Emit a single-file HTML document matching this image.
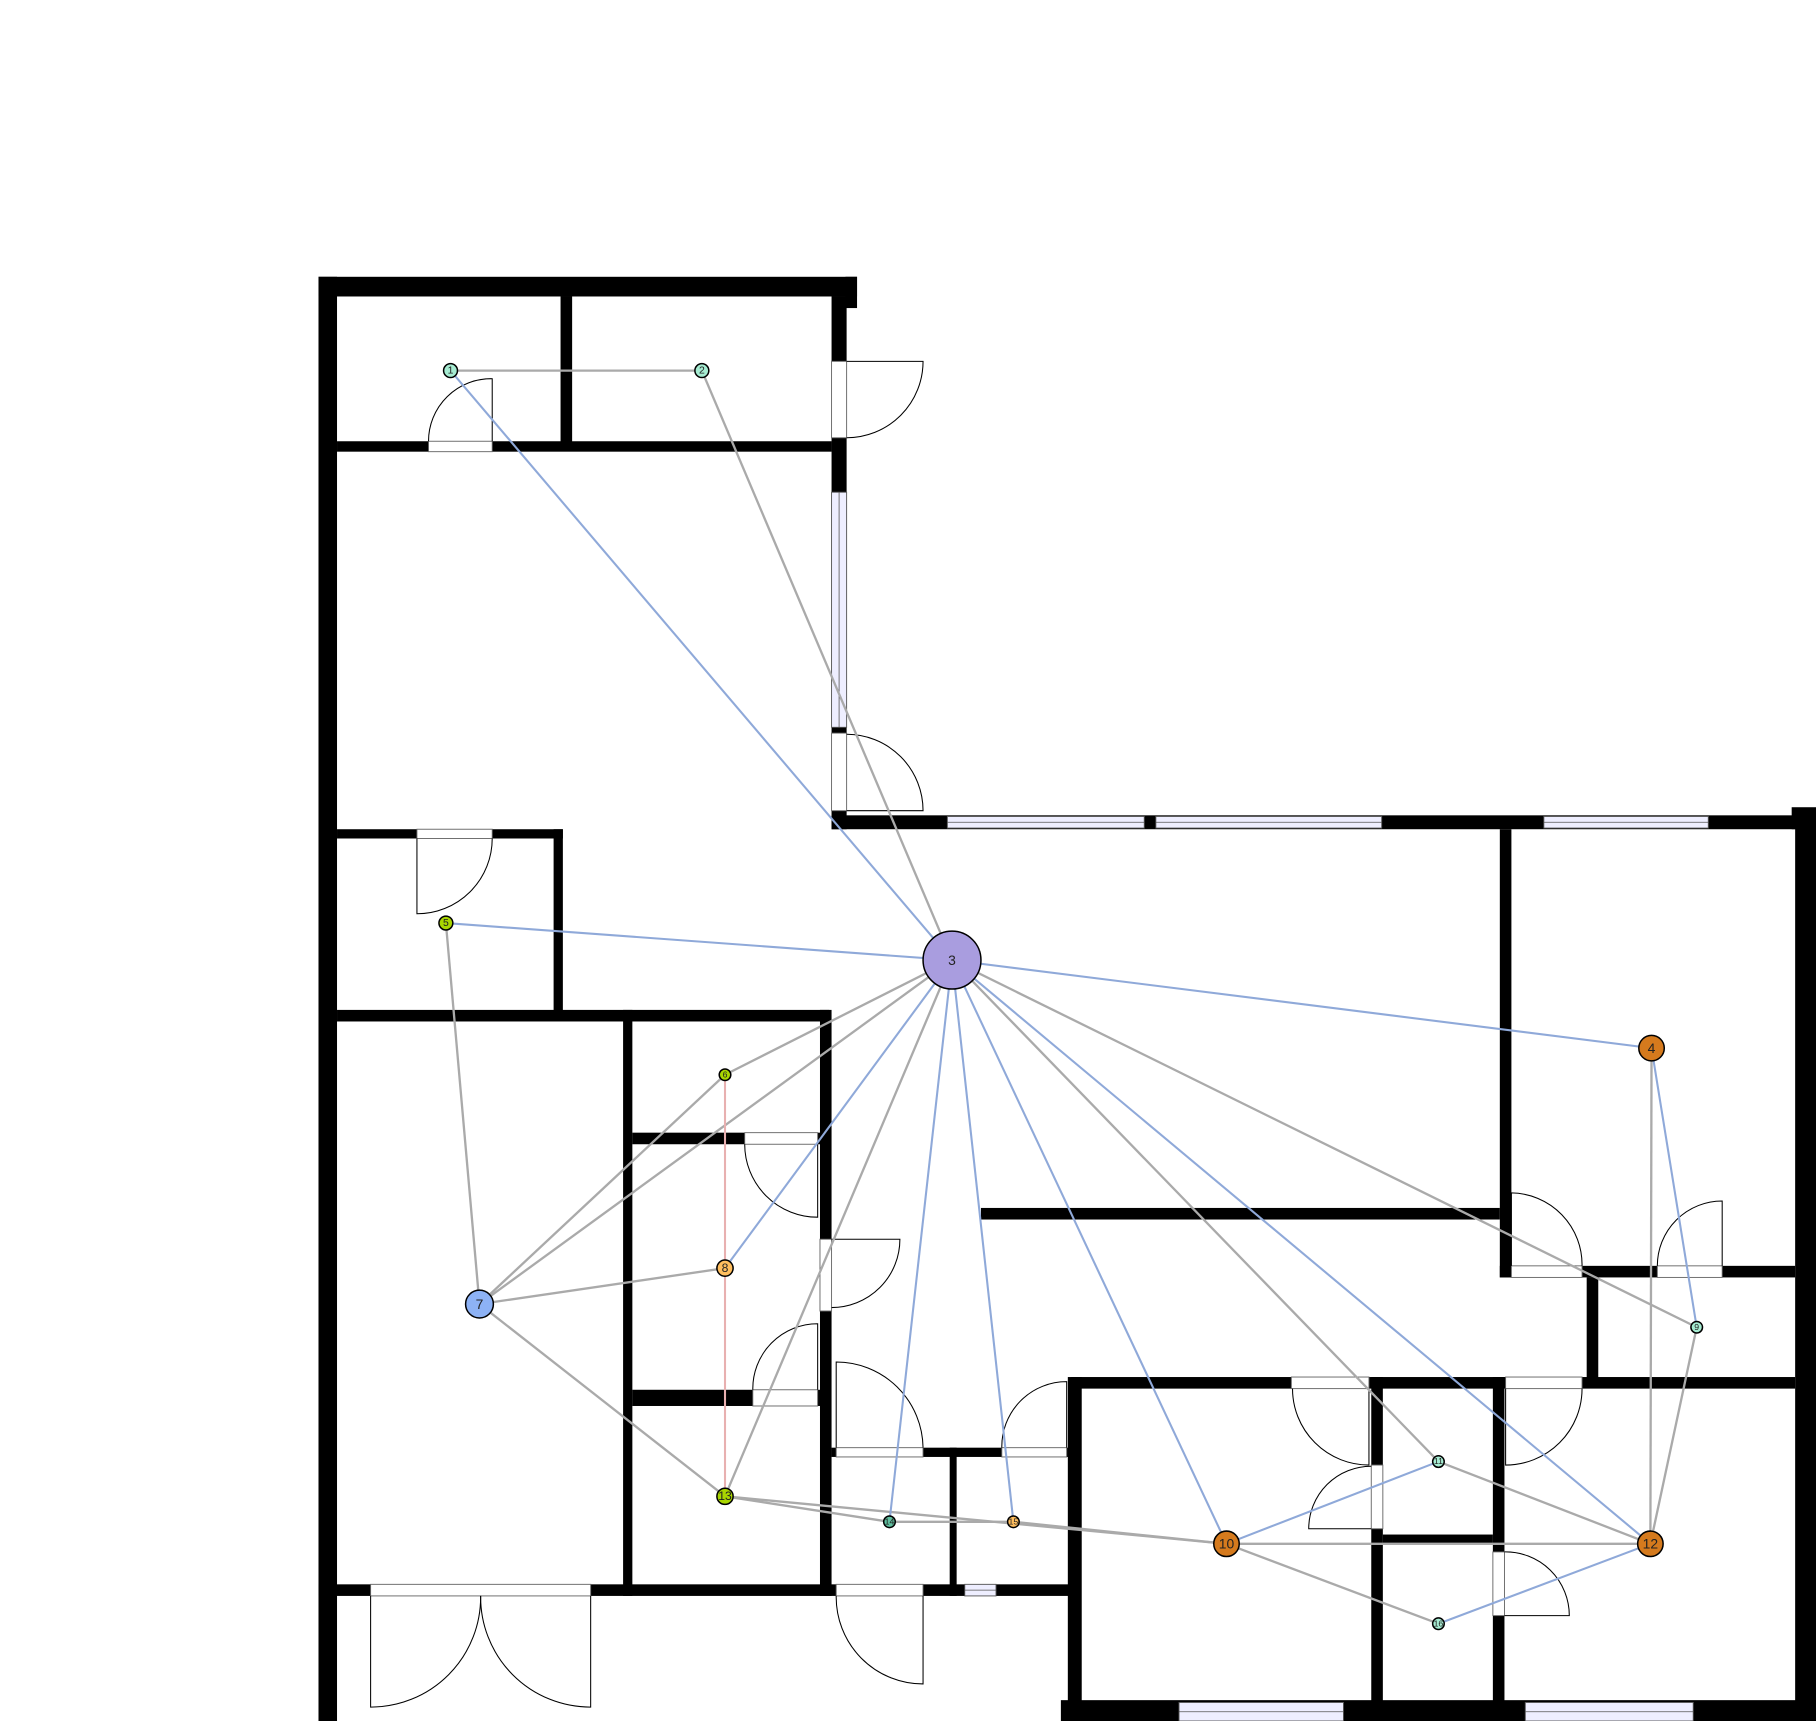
<!DOCTYPE html>
<html><head><meta charset="utf-8"><style>
html,body{margin:0;padding:0;background:#fff;}
svg{display:block;}
text{font-family:"Liberation Sans",sans-serif;}
</style></head><body>
<svg id="plan" width="1816" height="1721" viewBox="0 0 1568 1486" preserveAspectRatio="none" xmlns="http://www.w3.org/2000/svg">
<rect x="0" y="0" width="1568" height="1486" fill="#fff"/>
<g id="walls"></g>
<g id="openings"></g>
<g id="edges"></g>
<g id="nodes"></g>
</svg>
<script>
const NS="http://www.w3.org/2000/svg";
const nodeIds=[1,2,3,4,5,6,7,8,9,10,11,12,13,14,15,16];
const nodeX=[389,606,822,1426,385,626,414,626,1465,1059,1242,1425,626,768,875,1242];
const nodeY=[320,320,829,905,797,928,1126,1095,1146,1333,1262,1333,1292,1314,1314,1402];
const nodeR=[6,6,25,11,6,5,12,7,5,11,5,11,7,5,5,5];
const nodeColor=["#a6ecd2","#a6ecd2","#a99ddf","#d57a1d","#a9d600","#a9d600","#8db2f5","#ffbe5e","#a6ecd2","#d57a1d","#a6ecd2","#d57a1d","#a9d600","#5fbf9f","#ffbe5e","#a6ecd2"];
const edgeFrom=[1,2,3,3,3,3,3,7,7,7,7,13,13,14,15,10,10,11,12,12, 1,5,3,3,3,3,3,3,4,10,16, 6];
const edgeTo  =[2,3,6,7,13,11,9,6,5,8,13,14,10,15,10,12,16,12,4,9, 3,3,4,8,14,15,10,12,9,11,12, 13];
const edgeType=["g","g","g","g","g","g","g","g","g","g","g","g","g","g","g","g","g","g","g","g","b","b","b","b","b","b","b","b","b","b","b","p"];

const walls=[[275,239,465,17],[730,239,10,27],[275,239,16,1247],[484,256,10,126],[291,381,427,9],[718,256,13,460],[718,704,850,12],[1547,697,21,19],[1550,704,18,782],[1295,716,10,387],[1295,1093,255,10],[847,1043,448,10],[1370,1103,10,94],[925,1189,625,10],[922,1189,12,297],[1184,1189,10,297],[1289,1189,10,297],[1194,1325,95,8],[916,1468,652,18],[291,716,195,8],[478,716,8,164],[291,872,425,10],[538,872,8,506],[708,872,10,506],[546,978,162,10],[546,1200,162,14],[275,1368,650,10],[718,1250,207,8],[820,1250,6,128]];
const frames=[[370,381,55,9],[718,312,13,66],[718,633,13,67],[360,716,65,8],[643,978,63,10],[708,1070,10,62],[650,1200,56,14],[722,1250,75,8],[865,1250,56,8],[320,1368,190,10],[722,1368,75,10],[1305,1093,61,10],[1431,1093,56,10],[1115,1189,67,10],[1184,1265,10,55],[1300,1189,66,10],[1289,1340,10,55]];
const windows=[[718,425,13,203],[818,705,170,10],[998,705,195,10],[1333,705,142,10],[833,1368,27,10],[1018,1470,142,16],[1317,1470,145,16]];
// door swings: path d strings (leaf + arc)
const doors=["M425,381 L425,327 A54,54 0 0 0 370,381","M731,312 L797,312 A66,66 0 0 1 731,378","M731,700 L797,700 A66,66 0 0 0 731,634","M360,724 L360,789 A65,65 0 0 0 425,724","M706,988 L706,1051 A63,63 0 0 1 643,988","M718,1070 L777,1070 A59,59 0 0 1 718,1129","M706,1200 L706,1143 A56,56 0 0 0 650,1200","M722,1250 L722,1176 A75,75 0 0 1 797,1250","M921,1250 L921,1193 A56,56 0 0 0 865,1250","M320,1378 L320,1474 A95,95 0 0 0 415,1378","M510,1378 L510,1474 A95,95 0 0 1 415,1378","M797,1378 L797,1454 A75,75 0 0 1 722,1378","M1305,1093 L1305,1030 A62,62 0 0 1 1366,1093","M1487,1093 L1487,1037 A56,56 0 0 0 1431,1093","M1182,1199 L1182,1265 A66,66 0 0 1 1116,1199","M1184,1320 L1130,1320 A54,54 0 0 1 1184,1266","M1300,1199 L1300,1265 A66,66 0 0 0 1366,1199","M1299,1395 L1355,1395 A55,55 0 0 0 1299,1340"];

const gW=document.getElementById('walls');
walls.forEach(w=>{const r=document.createElementNS(NS,'rect');
r.setAttribute('x',w[0]);r.setAttribute('y',w[1]);r.setAttribute('width',w[2]);r.setAttribute('height',w[3]);r.setAttribute('fill','#000');


gW.appendChild(r);});
const gO=document.getElementById('openings');
frames.forEach(w=>{const r=document.createElementNS(NS,'rect');
r.setAttribute('x',w[0]);r.setAttribute('y',w[1]);r.setAttribute('width',w[2]);r.setAttribute('height',w[3]);r.setAttribute('fill','#fff');r.setAttribute('stroke','#666');r.setAttribute('stroke-width','0.8');


gO.appendChild(r);});
windows.forEach(w=>{const r=document.createElementNS(NS,'rect');
r.setAttribute('x',w[0]);r.setAttribute('y',w[1]);r.setAttribute('width',w[2]);r.setAttribute('height',w[3]);r.setAttribute('fill','#eeeeff');r.setAttribute('stroke','#555');r.setAttribute('stroke-width','0.8');


gO.appendChild(r);
const l=document.createElementNS(NS,'line');
if(w[2]>w[3]){l.setAttribute('x1',w[0]);l.setAttribute('x2',w[0]+w[2]);l.setAttribute('y1',w[1]+w[3]/2);l.setAttribute('y2',w[1]+w[3]/2);}
else{l.setAttribute('y1',w[1]);l.setAttribute('y2',w[1]+w[3]);l.setAttribute('x1',w[0]+w[2]/2);l.setAttribute('x2',w[0]+w[2]/2);}
l.setAttribute('stroke','#555');l.setAttribute('stroke-width','0.7');


gO.appendChild(l);});
doors.forEach(d=>{const p=document.createElementNS(NS,'path');
p.setAttribute('d',d);p.setAttribute('fill','none');p.setAttribute('stroke','#000');p.setAttribute('stroke-width','0.9');


gO.appendChild(p);});

const gE=document.getElementById('edges');
const colors={g:'#aaaaaa',b:'#8fa9d9',p:'#e8b0b0'};
edgeFrom.forEach((f,i)=>{const a=nodeIds.indexOf(f),b=nodeIds.indexOf(edgeTo[i]);
const l=document.createElementNS(NS,'line');
l.setAttribute('x1',nodeX[a]);l.setAttribute('y1',nodeY[a]);l.setAttribute('x2',nodeX[b]);l.setAttribute('y2',nodeY[b]);
l.setAttribute('stroke',colors[edgeType[i]]);l.setAttribute('stroke-width',edgeType[i]==='g'?'2':'1.8');


gE.appendChild(l);});

const gN=document.getElementById('nodes');
nodeIds.forEach((id,i)=>{const c=document.createElementNS(NS,'circle');
c.setAttribute('cx',nodeX[i]);c.setAttribute('cy',nodeY[i]);c.setAttribute('r',nodeR[i]);
c.setAttribute('fill',nodeColor[i]);c.setAttribute('stroke','#000');c.setAttribute('stroke-width','1.3');


gN.appendChild(c);
const t=document.createElementNS(NS,'text');
t.setAttribute('x',nodeX[i]);t.setAttribute('y',nodeY[i]+Math.min(nodeR[i],9)*0.45);
t.setAttribute('text-anchor','middle');t.setAttribute('font-size',Math.min(nodeR[i]*1.5,12));
t.setAttribute('fill','#222');
t.textContent=id;


gN.appendChild(t);});
</script>
</body></html>
